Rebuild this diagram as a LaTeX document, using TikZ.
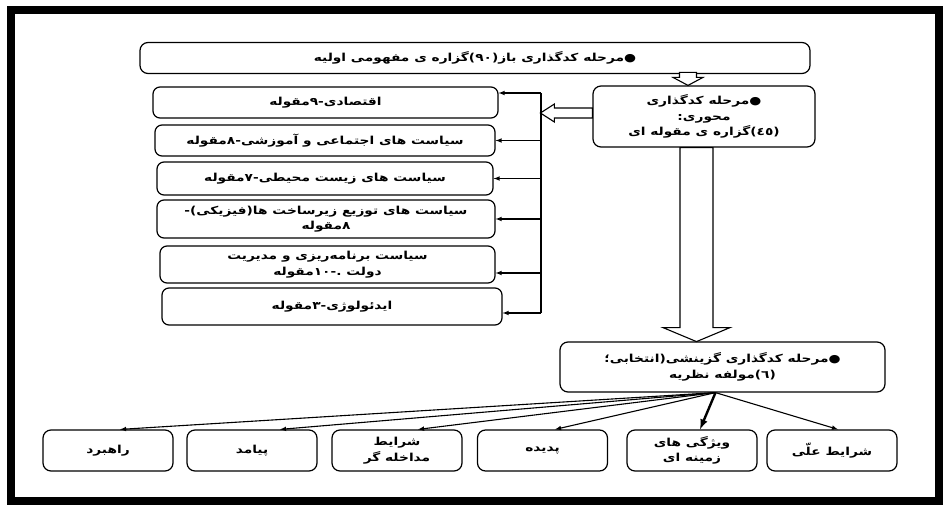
\documentclass[tikz,border=0pt]{standalone}
\usepackage{fontspec}
\newfontfamily\farsi[Script=Arabic, FakeStretch=1.25]{DejaVu Sans}
\TeXXeTstate=1
\newcommand{\fatxt}[1]{\beginR #1\endR}

\tikzset{
  stagebox/.style={draw, line width=1.2pt, rounded corners=8pt, align=center, inner sep=2pt,
    font=\farsi\bfseries\fontsize{11}{15.5}\selectfont},
  catbox/.style={stagebox, rounded corners=7pt},
  leafbox/.style={stagebox, minimum width=130pt, minimum height=41pt},
  hollow/.style={draw, line width=1.1pt, fill=white},
  catarrow/.style={-latex, line width=1.1pt},
}

\begin{document}
\begin{tikzpicture}[x=1pt,y=-1pt]
  \useasboundingbox (0,0) rectangle (943,506);

  % قاب
  \draw[line width=8pt] (11,10) rectangle (939,501);

  % مراحل کدگذاری
  \node[stagebox, minimum width=670pt, minimum height=31pt] (open) at (475,58) {\fatxt{●مرحله کدگذاری باز(٩٠)گزاره ی مفهومی اولیه}};
  \node[stagebox, minimum width=222pt, minimum height=61pt] (axial) at (704,116.5) {\fatxt{●مرحله کدگذاری}\\\fatxt{محوری:}\\\fatxt{(٤٥)گزاره ی مقوله ای}};
  \node[stagebox, minimum width=325pt, minimum height=50pt] (sel) at (722.5,367) {\fatxt{●مرحله کدگذاری گزینشی(انتخابی؛}\\\fatxt{(٦)مولفه نظریه}};

  % مقوله ها
  \node[catbox, minimum width=345pt, minimum height=31pt] (cat1) at (325.5,102.5) {\fatxt{اقتصادی-٩مقوله}};
  \node[catbox, minimum width=340pt, minimum height=31pt] (cat2) at (325,140.5) {\fatxt{سیاست های اجتماعی و آموزشی-٨مقوله}};
  \node[catbox, minimum width=336pt, minimum height=33pt] (cat3) at (325,178.5) {\fatxt{سیاست های زیست محیطی-٧مقوله}};
  \node[catbox, minimum width=338pt, minimum height=38pt] (cat4) at (326,219) {\fatxt{سیاست های توزیع زیرساخت ها(فیزیکی)-}\\\fatxt{٨مقوله}};
  \node[catbox, minimum width=335pt, minimum height=37pt] (cat5) at (327.5,264.5) {\fatxt{سیاست  برنامه‌ریزی و مدیریت}\\\fatxt{دولت .-١٠مقوله}};
  \node[catbox, minimum width=340pt, minimum height=37pt] (cat6) at (332,306.5) {\fatxt{ایدئولوژی-٣مقوله}};

  % مولفه ها
  \node[leafbox] (b1) at (108,450.5) {\fatxt{راهبرد}};
  \node[leafbox] (b2) at (252,450.5) {\fatxt{پیامد}};
  \node[leafbox] (b3) at (397,450.5) {\fatxt{شرایط}\\\fatxt{مداخله گر}};
  \node[leafbox] (b4) at (542.5,450.5) {\fatxt{پدیده}};
  \node[leafbox] (b5) at (692,450.5) {\fatxt{ویژگی های}\\\fatxt{زمینه ای}};
  \node[leafbox] (b6) at (832,450.5) {\fatxt{شرایط علّی}};

  % فلش های توخالی
  \draw[hollow] ([xshift=-16pt]axial.north) -- ++(-15,-8) -- ++(6.5,0) -- ++(0,-5) -- ++(17,0) -- ++(0,5) -- ++(6.5,0) -- cycle;
  \draw[hollow] ([yshift=3.5pt]axial.west) -- ++(0,-5) -- ++(-38,0) -- ++(0,-4) -- ++(-14,9) -- ++(14,9) -- ++(0,-4) -- ++(38,0) -- cycle;
  \path (axial.south) ++(-7.5,0) coordinate (bigtop);
  \draw[hollow] (bigtop) ++(-16.5,0) -- ++(0,180) -- ++(-17,0) -- ++(33.5,14) -- ++(33.5,-14) -- ++(-17,0) -- ++(0,-180) -- cycle;

  % خط عمودی و فلش ها به مقوله ها
  \coordinate (bustop) at (541,93);
  \coordinate (busbot) at (541,313);
  \draw[line width=2pt] (bustop) -- (busbot);
  \draw[catarrow] (bustop) -- (bustop -| cat1.east);
  \draw[catarrow] (bustop |- cat2.east) -- (cat2.east);
  \draw[catarrow] (bustop |- cat3.east) -- (cat3.east);
  \draw[catarrow] (bustop |- cat4.east) -- (cat4.east);
  \draw[catarrow] ([yshift=-8.5pt]cat5.east) ++(46,0) -- ([yshift=-8.5pt]cat5.east);
  \draw[catarrow] (busbot) -- (busbot -| cat6.east);

  % فلش ها به مولفه ها
  \coordinate (fan) at ([xshift=-7pt]sel.south);
  \draw[catarrow] (fan) -- ([xshift=12pt]b1.north);
  \draw[catarrow] (fan) -- ([xshift=28pt]b2.north);
  \draw[catarrow] (fan) -- ([xshift=21pt]b3.north);
  \draw[catarrow] (fan) -- ([xshift=12.5pt]b4.north);
  \draw[catarrow, line width=2.4pt] (fan) -- ([xshift=8pt]b5.north);
  \draw[catarrow] (fan) -- ([xshift=6pt]b6.north);
\end{tikzpicture}
\end{document}
